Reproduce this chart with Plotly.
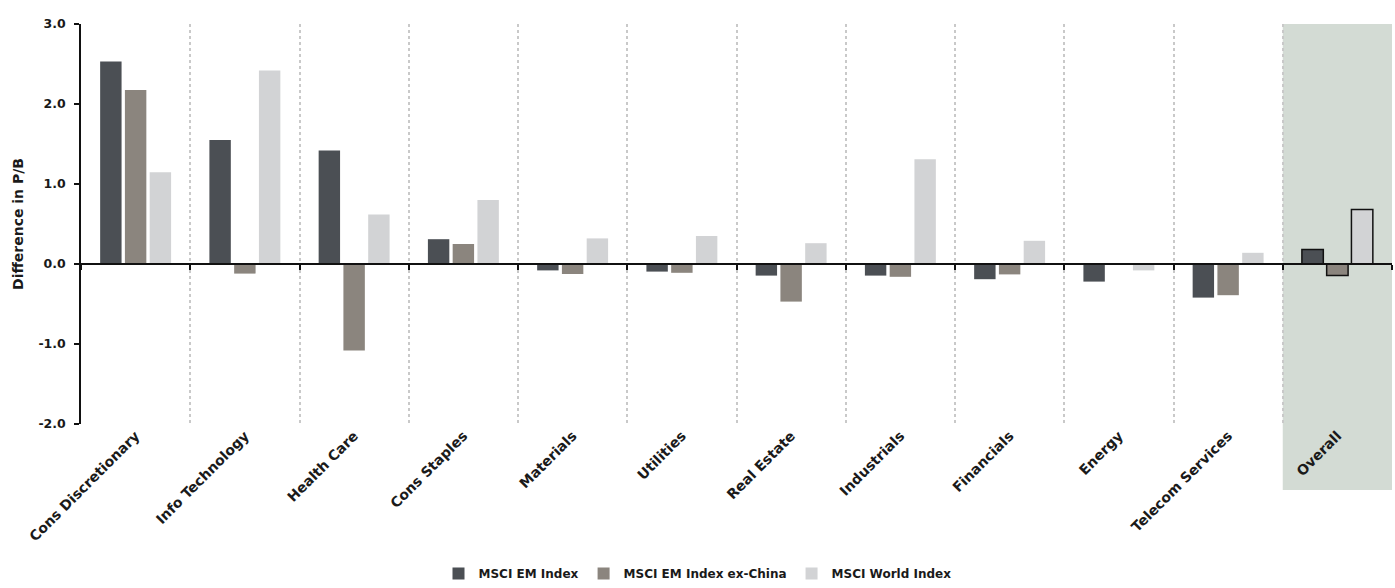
import plotly.graph_objects as go

# Sector P/B differences by index
sectors = ["Cons Discretionary", "Info Technology", "Health Care", "Cons Staples",
           "Materials", "Utilities", "Real Estate", "Industrials", "Financials",
           "Energy", "Telecom Services", "Overall"]
msci_em = [2.53, 1.55, 1.42, 0.31, -0.08, -0.095, -0.145, -0.145, -0.19, -0.22, -0.42, 0.18]
msci_em_ex_china = [2.175, -0.12, -1.08, 0.25, -0.125, -0.11, -0.47, -0.16, -0.13, 0.0, -0.39, -0.145]
msci_world = [1.146, 2.42, 0.62, 0.80, 0.32, 0.35, 0.26, 1.31, 0.29, -0.08, 0.14, 0.68]
y_ticks = [-2.0, -1.0, 0.0, 1.0, 2.0, 3.0]
y_tick_text = ["-2.0", "-1.0", "0.0", "1.0", "2.0", "3.0"]

series = [
    ("MSCI EM Index", msci_em, "#4B4F54"),
    ("MSCI EM Index ex-China", msci_em_ex_china, "#8B857E"),
    ("MSCI World Index", msci_world, "#D2D3D5"),
]

FONT = "DejaVu Sans"
INK = "#1a1a1a"
n = len(sectors)
# the aggregate group is outlined in black
line_widths = [0] * (n - 1) + [1.5]

fig = go.Figure()
for name, vals, color in series:
    fig.add_trace(go.Bar(
        x=sectors, y=vals, name=name,
        marker=dict(color=color, line=dict(color="#111111", width=line_widths)),
    ))

# helper trace so the zero-line category axis is rendered
fig.add_trace(go.Scatter(x=sectors, y=[0] * n, xaxis="x2", mode="markers",
                         marker=dict(opacity=0), showlegend=False, hoverinfo="skip"))

fig.update_layout(
    width=1395, height=588,
    margin=dict(l=81, r=3, t=24, b=164),
    paper_bgcolor="white", plot_bgcolor="rgba(0,0,0,0)",
    barmode="group", bargap=0.32, bargroupgap=0.135,
    font=dict(family=FONT, size=13, color=INK),
    showlegend=True,
    legend=dict(orientation="h", x=0.5, xref="container", xanchor="center",
                y=0, yref="container", yanchor="bottom",
                font=dict(family=FONT, size=12, color=INK, weight="bold"),
                itemwidth=30, traceorder="normal"),
    xaxis=dict(
        type="category", categoryorder="array", categoryarray=sectors,
        range=[-0.5, n - 0.5],
        tickson="boundaries", ticks="", showline=False,
        showgrid=True, griddash="dot", gridcolor="#C9C9C9", gridwidth=2,
        tickangle=-45,
        tickfont=dict(family=FONT, size=14, color=INK, weight="bold"),
    ),
    xaxis2=dict(
        type="category", categoryorder="array", categoryarray=sectors,
        range=[-0.5, n - 0.5], overlaying="x", anchor="free", position=0.4,
        tickson="boundaries", ticks="outside", ticklen=5, tickwidth=1.5, tickcolor="#111111",
        showticklabels=False, showgrid=False, showline=True, linecolor="#111111", linewidth=1.5,
    ),
    yaxis=dict(
        range=[-2.0, 3.0], tickvals=y_ticks, ticktext=y_tick_text,
        ticks="outside", ticklen=5, tickwidth=1.5, tickcolor="#111111",
        ticklabelstandoff=6,
        showline=True, linecolor="#111111", linewidth=1.5,
        showgrid=False, zeroline=False,
        tickfont=dict(family=FONT, size=12.5, color=INK, weight="bold"),
        title=dict(text="Difference in P/B", standoff=12,
                   font=dict(family=FONT, size=14, color=INK, weight="bold")),
    ),
    shapes=[dict(type="rect", xref="x", yref="paper",
                 x0=n - 1.5, x1=n - 0.5, y0=-0.165, y1=1.0,
                 fillcolor="#D3DBD4", line=dict(width=0), layer="below")],
)

fig.write_html("out.html")
